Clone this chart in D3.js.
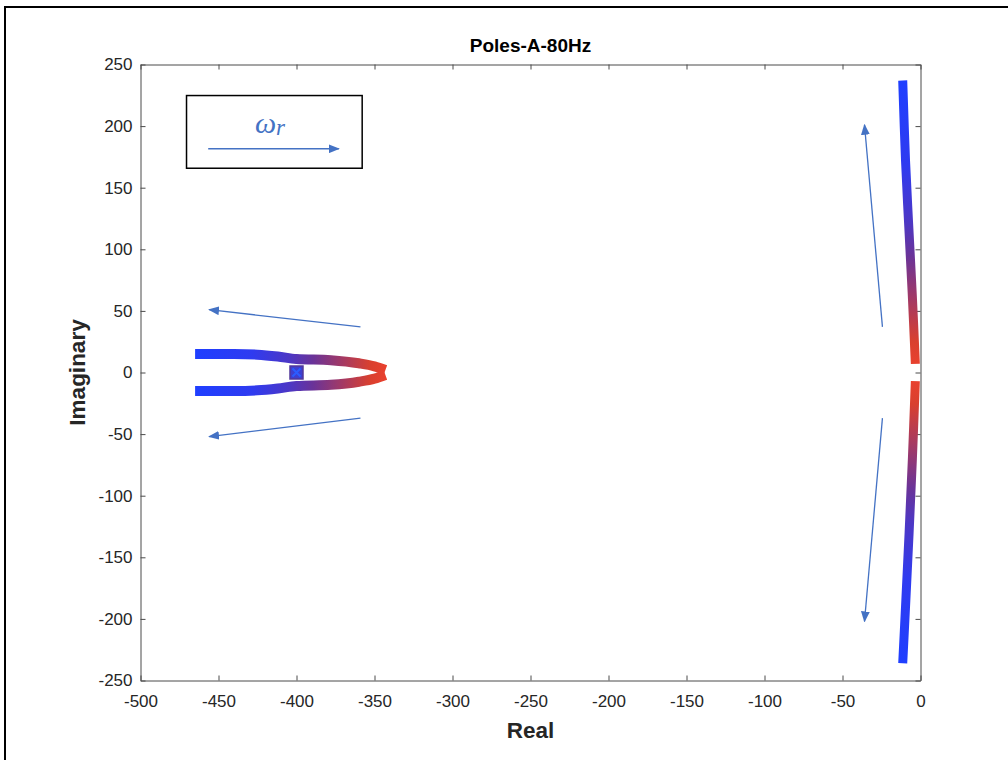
<!DOCTYPE html>
<html>
<head>
<meta charset="utf-8">
<script src="https://cdn.jsdelivr.net/npm/d3@7"></script>
<style>
  html, body { margin: 0; padding: 0; background: #fff; }
  svg { display: block; }
</style>
</head>
<body>
<svg id="chart" width="1008" height="760"></svg>
<script>
// Root-locus style pole trajectories in the complex plane, coloured by rotor speed (blue = low, red = high)

const title = "Poles-A-80Hz";
const xLabel = "Real";
const yLabel = "Imaginary";

const xTicks = [-500, -450, -400, -350, -300, -250, -200, -150, -100, -50, 0];
const yTicks = [-250, -200, -150, -100, -50, 0, 50, 100, 150, 200, 250];

// Left pole pair: starts at about -465 ± 15j and meets near -343 on the real axis
const leftUpperRe = [-465, -440, -425, -412, -400, -378, -360, -350, -343];
const leftUpperIm = [15, 15, 14.5, 13, 11, 10, 7.5, 5, 2];
const leftLowerRe = [-465, -440, -425, -412, -400, -378, -360, -350, -343];
const leftLowerIm = [-15, -15, -14.5, -13, -11, -10, -7.5, -5, -2];

// Right pole pair: lightly damped, sweeping from about ±237j down to the real axis
const rightUpperRe = [-11.4, -9.6, -7.5, -5.3, -3.3];
const rightUpperIm = [237, 172, 118, 64, 7];
const rightLowerRe = [-3.3, -5.2, -7.3, -9.4, -11.4];
const rightLowerIm = [-7, -70, -130, -185, -236];

// Fixed pole marker
const markerRe = [-400];
const markerIm = [0];

// Direction-of-travel arrows, [from, to] in data units
const arrowLeftUpper = [[-359, 37], [-456, 51]];
const arrowLeftLower = [[-359, -37], [-456, -52]];
const arrowRightUpper = [[-24.4, 37], [-35.9, 201]];
const arrowRightLower = [[-24.4, -37], [-35.9, -202]];

// Legend box showing increasing ω_r
const legendBox = [[-470.5, 224.8], [-357.9, 165.8]];
const legendArrow = [[-456.6, 181.6], [-372.9, 181.6]];
const legendTextPos = [-417, 194];

const colorStops = ["#1f3fff", "#2f3bf0", "#4d37c4", "#6a3398", "#a63a62", "#d9402f", "#e8412e"];
const colorOffsets = [0, 0.3, 0.5, 0.62, 0.78, 0.92, 1];

const svg = d3.select("#chart");
const W = 1008, H = 760;

const x = d3.scaleLinear().domain([-500, 0]).range([140.5, 920.5]);
const y = d3.scaleLinear().domain([-250, 250]).range([680.5, 64.5]);

const axisColor = "#4a4a4a";
const textColor = "#262626";
const arrowColor = "#4472c4";
const fontSans = "'Liberation Sans', Arial, Helvetica, sans-serif";

// Outer frame
svg.append("path")
  .attr("d", "M5," + H + " L5,7 L" + W + ",7")
  .attr("fill", "none")
  .attr("stroke", "#000")
  .attr("stroke-width", 2);

const defs = svg.append("defs");

function gradient(id, x1, y1, x2, y2) {
  const g = defs.append("linearGradient")
    .attr("id", id)
    .attr("gradientUnits", "userSpaceOnUse")
    .attr("x1", x1).attr("y1", y1).attr("x2", x2).attr("y2", y2);
  colorStops.forEach((c, i) => {
    g.append("stop").attr("offset", colorOffsets[i]).attr("stop-color", c);
  });
}

defs.append("marker")
  .attr("id", "head")
  .attr("viewBox", "0 0 10 8")
  .attr("refX", 9).attr("refY", 4)
  .attr("markerWidth", 11).attr("markerHeight", 9)
  .attr("markerUnits", "userSpaceOnUse")
  .attr("orient", "auto")
  .append("path")
  .attr("d", "M0,0 L10,4 L0,8 Z")
  .attr("fill", arrowColor);

// Axes: ticks point inward, box on all four sides
const fmt = d => String(d);
const gx = svg.append("g").attr("transform", `translate(0,${y(-250)})`)
  .call(d3.axisBottom(x).tickValues(xTicks).tickFormat(fmt).tickSizeInner(-5).tickSizeOuter(0).tickPadding(14));
const gy = svg.append("g").attr("transform", `translate(${x(-500)},0)`)
  .call(d3.axisLeft(y).tickValues(yTicks).tickFormat(fmt).tickSizeInner(-5).tickSizeOuter(0).tickPadding(8));
const gxt = svg.append("g").attr("transform", `translate(0,${y(250)})`)
  .call(d3.axisTop(x).tickValues(xTicks).tickSizeInner(-5).tickSizeOuter(0).tickFormat(""));
const gyr = svg.append("g").attr("transform", `translate(${x(0)},0)`)
  .call(d3.axisRight(y).tickValues(yTicks).tickSizeInner(-5).tickSizeOuter(0).tickFormat(""));

[gx, gy, gxt, gyr].forEach(g => {
  g.select(".domain").attr("stroke", axisColor).attr("stroke-width", 1);
  g.selectAll(".tick line").attr("stroke", axisColor).attr("stroke-width", 1);
  g.selectAll(".tick text")
    .attr("fill", textColor)
    .style("font-family", fontSans)
    .style("font-size", "17px");
});

// Title and axis labels
svg.append("text")
  .attr("x", (x(-500) + x(0)) / 2).attr("y", 52)
  .attr("text-anchor", "middle")
  .style("font-family", fontSans).style("font-size", "19px").style("font-weight", "bold")
  .attr("fill", "#000")
  .text(title);

svg.append("text")
  .attr("x", (x(-500) + x(0)) / 2).attr("y", 738)
  .attr("text-anchor", "middle")
  .style("font-family", fontSans).style("font-size", "22.5px").style("font-weight", "bold")
  .attr("fill", textColor)
  .text(xLabel);

svg.append("text")
  .attr("transform", `translate(85,${y(0)}) rotate(-90)`)
  .attr("text-anchor", "middle")
  .style("font-family", fontSans).style("font-size", "22.5px").style("font-weight", "bold")
  .attr("fill", textColor)
  .text(yLabel);

// Pole trajectories
const plot = svg.append("g");

function branch(id, re, im, curve, width) {
  const pts = re.map((r, i) => [x(r), y(im[i])]);
  const line = d3.line().curve(curve);
  plot.append("path")
    .attr("d", line(pts))
    .attr("fill", "none")
    .attr("stroke", `url(#${id})`)
    .attr("stroke-width", width)
    .attr("stroke-linecap", "butt")
    .attr("stroke-linejoin", "round");
}

gradient("gLU", x(leftUpperRe[0]), 0, x(leftUpperRe[leftUpperRe.length - 1]), 0);
gradient("gLL", x(leftLowerRe[0]), 0, x(leftLowerRe[leftLowerRe.length - 1]), 0);
gradient("gRU", 0, y(rightUpperIm[0]), 0, y(rightUpperIm[rightUpperIm.length - 1]));
gradient("gRL", 0, y(rightLowerIm[rightLowerIm.length - 1]), 0, y(rightLowerIm[0]));

branch("gLU", leftUpperRe, leftUpperIm, d3.curveMonotoneX, 10);
branch("gLL", leftLowerRe, leftLowerIm, d3.curveMonotoneX, 10);
branch("gRU", rightUpperRe, rightUpperIm, d3.curveCatmullRom, 9);
branch("gRL", rightLowerRe, rightLowerIm, d3.curveCatmullRom, 9);

// Fixed pole marker: square with a cross
markerRe.forEach((r, i) => {
  const cx = x(r), cy = y(markerIm[i]), s = 6.5;
  plot.append("rect")
    .attr("x", cx - s).attr("y", cy - s).attr("width", 2 * s).attr("height", 2 * s)
    .attr("fill", "#3d3fd0").attr("stroke", "#52399a").attr("stroke-width", 1.5);
  plot.append("path")
    .attr("d", `M${cx - 4},${cy - 4} L${cx + 4},${cy + 4} M${cx - 4},${cy + 4} L${cx + 4},${cy - 4}`)
    .attr("stroke", "#2b5cff").attr("stroke-width", 2);
});

// Arrows
function arrow(g, a) {
  g.append("line")
    .attr("x1", x(a[0][0])).attr("y1", y(a[0][1]))
    .attr("x2", x(a[1][0])).attr("y2", y(a[1][1]))
    .attr("stroke", arrowColor).attr("stroke-width", 1.3)
    .attr("marker-end", "url(#head)");
}
[arrowLeftUpper, arrowLeftLower, arrowRightUpper, arrowRightLower].forEach(a => arrow(plot, a));

// Legend
const legend = svg.append("g");
legend.append("rect")
  .attr("x", x(legendBox[0][0])).attr("y", y(legendBox[0][1]))
  .attr("width", x(legendBox[1][0]) - x(legendBox[0][0]))
  .attr("height", y(legendBox[1][1]) - y(legendBox[0][1]))
  .attr("fill", "#fff").attr("stroke", "#000").attr("stroke-width", 1.5);
arrow(legend, legendArrow);
const lt = legend.append("text")
  .attr("x", x(legendTextPos[0])).attr("y", y(legendTextPos[1]))
  .attr("text-anchor", "middle")
  .attr("fill", arrowColor)
  .style("font-family", "'Liberation Serif', 'DejaVu Serif', serif")
  .style("font-style", "italic");
lt.append("tspan").style("font-size", "30px").text("ω");
lt.append("tspan").style("font-size", "23px").attr("dy", 2).text("r");
</script>
</body>
</html>
